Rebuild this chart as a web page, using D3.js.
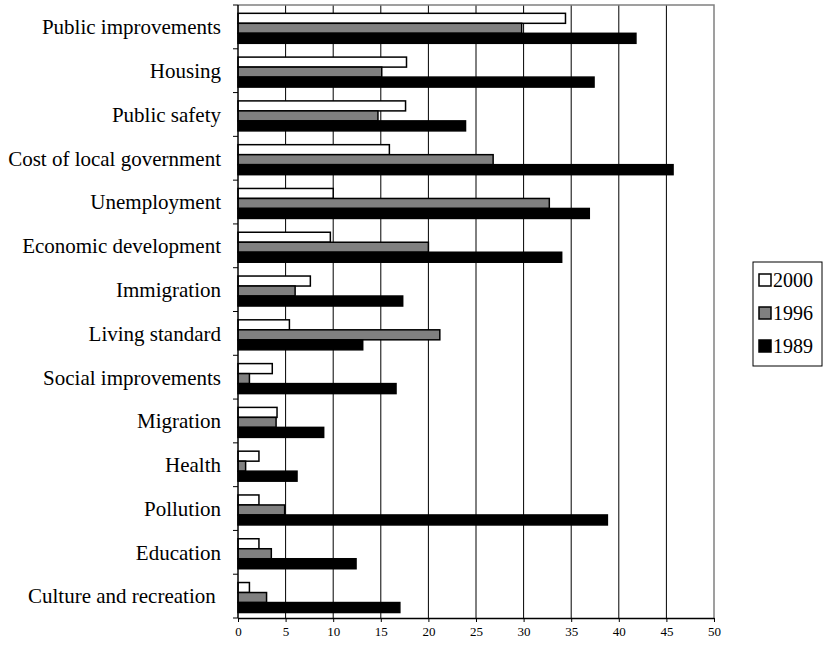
<!DOCTYPE html>
<html><head><meta charset="utf-8">
<script src="https://cdn.jsdelivr.net/npm/d3@7"></script>
<style>body{margin:0;background:#fff}svg{display:block}</style>
</head><body><svg id="c" width="824" height="649"></svg>
<script>
const categories = ["Public improvements","Housing","Public safety","Cost of local government","Unemployment","Economic development","Immigration","Living standard","Social improvements","Migration","Health","Pollution","Education","Culture and recreation "];
const seriesNames = ["2000","1996","1989"];
const v2000 = [34.4,17.7,17.6,15.9,10.0,9.7,7.6,5.4,3.6,4.1,2.2,2.2,2.2,1.2];
const v1996 = [29.8,15.1,14.7,26.8,32.7,20.0,6.0,21.2,1.2,4.0,0.8,4.9,3.5,3.0];
const v1989 = [41.8,37.4,23.9,45.7,36.9,34.0,17.3,13.1,16.6,9.0,6.2,38.8,12.4,17.0];
const xTicks = [0,5,10,15,20,25,30,35,40,45,50];
const fills = ["#ffffff","#808080","#000000"];

const svg = d3.select("#c");
const font = "'Liberation Serif','Times New Roman',serif";
const x = d3.scaleLinear().domain([0,50]).range([238,714]);
const y = d3.scaleBand().domain(categories).range([5,618]).padding(0);
const bw = y.bandwidth();
const y1 = d3.scaleBand().domain(seriesNames).range([bw*0.19, bw*0.875]);
const vals = [v2000, v1996, v1989];

// gridlines
svg.append("g").selectAll("line").data(xTicks.slice(1,-1)).join("line")
  .attr("x1",d=>x(d)).attr("x2",d=>x(d)).attr("y1",5).attr("y2",618)
  .attr("stroke","#000").attr("stroke-width",1);
// border top/right
svg.append("path").attr("d",`M${x(0)},5H${x(50)}V618`).attr("fill","none").attr("stroke","#808080").attr("stroke-width",1.5);

// bars
seriesNames.forEach((s,si)=>{
  svg.append("g").selectAll("rect").data(categories).join("rect")
    .attr("x",x(0))
    .attr("y",d=>y(d)+y1(s))
    .attr("width",(d,i)=>x(vals[si][i])-x(0))
    .attr("height",y1.bandwidth())
    .attr("fill",fills[si]).attr("stroke","#000").attr("stroke-width",1.5);
});

// axes
const xa = svg.append("g").attr("transform","translate(0,618)")
  .call(d3.axisBottom(x).tickValues(xTicks).tickSize(4).tickSizeOuter(0));
xa.select(".domain").attr("stroke","#000").attr("stroke-width",1.5);
xa.selectAll("text").attr("font-family",font).attr("font-size",13).attr("fill","#000").attr("dy","0.85em");

const ya = svg.append("g");
ya.append("line").attr("x1",x(0)).attr("x2",x(0)).attr("y1",5).attr("y2",618).attr("stroke","#000").attr("stroke-width",1.5);
const bounds = categories.map(c=>y(c)).concat([618]);
ya.selectAll("line.t").data(bounds).join("line").attr("class","t")
  .attr("x1",x(0)-5).attr("x2",x(0)).attr("y1",d=>d).attr("y2",d=>d).attr("stroke","#000");
ya.selectAll("text").data(categories).join("text")
  .attr("x",221).attr("y",d=>y(d)+bw/2).attr("dy","0.35em")
  .attr("text-anchor","end").attr("font-family",font).attr("font-size",21).attr("fill","#000")
  .style("white-space","pre")
  .text(d=>d);

// legend
const lg = svg.append("g");
lg.append("rect").attr("x",753).attr("y",262).attr("width",69).attr("height",104)
  .attr("fill","#fff").attr("stroke","#000").attr("stroke-width",1);
seriesNames.forEach((s,i)=>{
  const cy = 280 + i*33;
  lg.append("rect").attr("x",759).attr("y",cy-6).attr("width",12).attr("height",12)
    .attr("fill",fills[i]).attr("stroke","#000").attr("stroke-width",1.5);
  lg.append("text").attr("x",773).attr("y",cy).attr("dy","0.35em")
    .attr("font-family",font).attr("font-size",20).attr("fill","#000").text(s);
});
</script></body></html>
